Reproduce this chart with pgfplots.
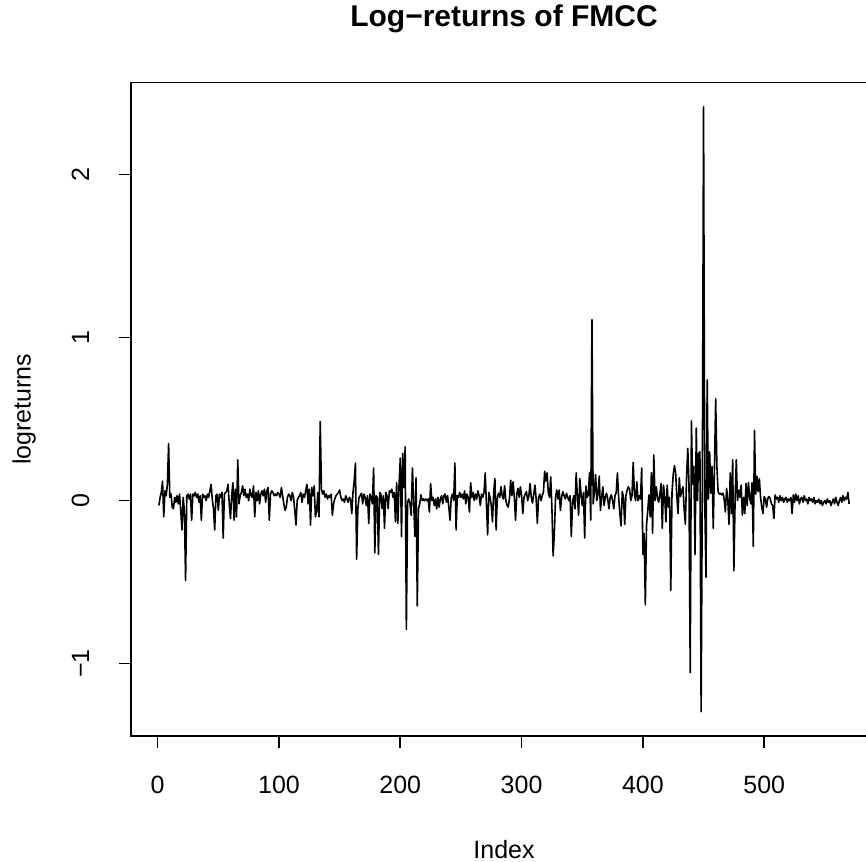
\documentclass[border=0pt]{standalone}
\usepackage{fontspec}
\setmainfont{Liberation Sans}
\usepackage{pgfplots}
\usepackage{pgfplotstable}
\pgfplotsset{compat=1.18}

% log-returns, one value per index 1..570
\pgfplotstableread[row sep=\\, header=false]{
-0.03\\ 0.02\\ 0.05\\ 0.12\\ -0.10\\ 0.06\\ 0.03\\ 0.10\\ 0.35\\ 0.02\\
0.04\\ -0.04\\ -0.05\\ 0.02\\ -0.01\\ 0.03\\ -0.02\\ 0.04\\ -0.06\\ -0.18\\
0.02\\ -0.06\\ -0.49\\ 0.03\\ 0.04\\ 0.01\\ 0.04\\ -0.12\\ 0.04\\ 0.03\\
0.05\\ 0.02\\ 0.04\\ -0.01\\ 0.03\\ -0.12\\ 0.04\\ 0.02\\ 0.03\\ 0.00\\
0.04\\ 0.02\\ 0.06\\ 0.10\\ 0.01\\ -0.05\\ -0.18\\ 0.03\\ 0.04\\ -0.06\\
0.04\\ 0.02\\ 0.05\\ -0.23\\ 0.04\\ 0.05\\ 0.06\\ 0.10\\ -0.02\\ -0.11\\
0.03\\ 0.11\\ -0.12\\ 0.07\\ -0.10\\ 0.25\\ -0.02\\ 0.03\\ 0.05\\ 0.09\\
0.03\\ 0.07\\ 0.02\\ 0.04\\ 0.00\\ 0.07\\ 0.03\\ 0.02\\ 0.09\\ -0.10\\
0.05\\ 0.00\\ 0.06\\ -0.02\\ 0.04\\ 0.06\\ 0.03\\ 0.07\\ -0.01\\ 0.06\\
0.08\\ -0.12\\ 0.04\\ 0.06\\ 0.05\\ 0.03\\ 0.04\\ 0.03\\ 0.05\\ 0.04\\
0.02\\ 0.08\\ 0.03\\ -0.02\\ -0.06\\ -0.04\\ 0.02\\ 0.04\\ 0.03\\ 0.00\\
0.05\\ 0.02\\ -0.06\\ -0.15\\ 0.00\\ 0.02\\ 0.03\\ 0.05\\ -0.01\\ 0.04\\
0.02\\ 0.06\\ 0.10\\ -0.02\\ 0.07\\ -0.15\\ 0.08\\ 0.03\\ 0.09\\ -0.10\\
-0.07\\ 0.05\\ -0.10\\ 0.485\\ 0.07\\ 0.04\\ 0.06\\ 0.02\\ 0.04\\ 0.01\\
0.03\\ 0.02\\ 0.04\\ -0.09\\ -0.02\\ 0.01\\ 0.03\\ 0.04\\ 0.05\\ 0.065\\
0.02\\ 0.00\\ 0.01\\ -0.01\\ 0.03\\ 0.01\\ -0.01\\ 0.02\\ 0.01\\ -0.08\\
0.05\\ 0.12\\ 0.23\\ -0.36\\ -0.05\\ 0.02\\ 0.03\\ 0.045\\ -0.02\\ 0.04\\
0.02\\ -0.03\\ 0.03\\ -0.14\\ 0.04\\ 0.02\\ -0.02\\ 0.20\\ -0.32\\ 0.03\\
0.02\\ -0.33\\ 0.05\\ 0.04\\ -0.05\\ 0.03\\ -0.17\\ 0.05\\ 0.03\\ -0.05\\
0.06\\ 0.05\\ 0.07\\ 0.02\\ 0.05\\ -0.13\\ 0.11\\ -0.14\\ 0.10\\ 0.26\\
-0.22\\ 0.29\\ 0.08\\ 0.33\\ -0.79\\ -0.01\\ 0.01\\ -0.02\\ -0.09\\ 0.20\\
0.00\\ -0.22\\ 0.14\\ -0.645\\ -0.05\\ -0.02\\ 0.035\\ 0.00\\ 0.01\\ 0.00\\
0.01\\ 0.00\\ 0.01\\ -0.07\\ 0.105\\ 0.00\\ 0.02\\ -0.03\\ 0.01\\ -0.05\\
0.02\\ -0.04\\ 0.01\\ 0.03\\ -0.02\\ 0.03\\ 0.04\\ -0.01\\ 0.03\\ -0.04\\
-0.12\\ 0.02\\ 0.04\\ 0.00\\ 0.23\\ -0.18\\ 0.03\\ 0.02\\ 0.05\\ 0.02\\
0.04\\ 0.01\\ 0.06\\ -0.02\\ 0.04\\ 0.02\\ -0.07\\ 0.11\\ 0.02\\ 0.05\\
0.00\\ 0.04\\ 0.01\\ 0.06\\ 0.03\\ -0.03\\ 0.04\\ 0.02\\ 0.05\\ 0.17\\
-0.02\\ -0.21\\ 0.05\\ 0.02\\ -0.03\\ -0.13\\ 0.05\\ 0.135\\ -0.18\\ 0.02\\
0.045\\ 0.02\\ 0.085\\ 0.03\\ 0.01\\ 0.09\\ 0.00\\ -0.03\\ -0.04\\ 0.01\\
0.125\\ 0.03\\ 0.115\\ 0.02\\ -0.12\\ 0.04\\ 0.075\\ 0.02\\ 0.085\\ 0.03\\
-0.08\\ 0.02\\ 0.04\\ 0.055\\ 0.00\\ 0.03\\ 0.105\\ 0.02\\ -0.015\\ 0.04\\
0.095\\ 0.01\\ -0.14\\ 0.02\\ 0.04\\ 0.00\\ 0.03\\ 0.05\\ 0.18\\ 0.12\\
0.17\\ 0.05\\ 0.02\\ 0.145\\ -0.05\\ -0.34\\ -0.20\\ 0.02\\ 0.065\\ 0.01\\
0.065\\ -0.06\\ 0.02\\ 0.055\\ 0.03\\ 0.01\\ 0.045\\ 0.02\\ 0.00\\ 0.03\\
-0.22\\ -0.01\\ 0.03\\ -0.05\\ 0.17\\ 0.02\\ -0.09\\ 0.135\\ 0.04\\ -0.03\\
0.05\\ -0.23\\ 0.09\\ 0.02\\ 0.035\\ 0.17\\ -0.12\\ 1.11\\ -0.02\\ 0.05\\
0.16\\ 0.00\\ 0.04\\ 0.15\\ -0.06\\ 0.02\\ 0.085\\ -0.03\\ 0.02\\ 0.045\\
0.01\\ -0.05\\ 0.02\\ 0.035\\ 0.00\\ -0.05\\ 0.03\\ 0.05\\ 0.17\\ 0.02\\
-0.08\\ -0.155\\ 0.055\\ 0.02\\ -0.145\\ 0.03\\ 0.065\\ 0.085\\ 0.07\\ 0.00\\
0.03\\ 0.235\\ 0.04\\ 0.00\\ 0.115\\ 0.00\\ 0.03\\ 0.01\\ 0.20\\ -0.33\\
-0.20\\ -0.64\\ -0.15\\ -0.06\\ 0.035\\ -0.10\\ 0.17\\ -0.20\\ 0.28\\ 0.00\\
0.085\\ 0.02\\ -0.01\\ 0.04\\ 0.105\\ -0.17\\ 0.095\\ 0.02\\ -0.13\\ 0.095\\
-0.04\\ 0.02\\ -0.55\\ 0.05\\ 0.16\\ 0.215\\ 0.17\\ 0.02\\ -0.08\\ 0.14\\
0.025\\ 0.06\\ 0.085\\ -0.05\\ -0.145\\ 0.145\\ 0.32\\ 0.10\\ -1.055\\ 0.49\\
0.10\\ 0.21\\ -0.33\\ 0.445\\ 0.00\\ 0.29\\ 0.30\\ -1.295\\ 0.10\\ 2.416\\
0.00\\ -0.47\\ 0.74\\ 0.01\\ 0.30\\ 0.045\\ 0.21\\ -0.17\\ 0.20\\ 0.625\\
0.21\\ 0.055\\ 0.04\\ 0.045\\ 0.035\\ 0.045\\ 0.01\\ -0.07\\ 0.075\\ 0.00\\
-0.145\\ 0.17\\ -0.08\\ 0.25\\ -0.43\\ 0.00\\ 0.25\\ 0.00\\ 0.065\\ 0.02\\
0.095\\ -0.09\\ 0.02\\ -0.08\\ 0.105\\ -0.03\\ 0.11\\ 0.02\\ -0.02\\ 0.11\\
-0.28\\ 0.43\\ 0.04\\ 0.15\\ 0.055\\ 0.135\\ 0.02\\ -0.04\\ -0.08\\ 0.025\\
0.01\\ -0.04\\ 0.015\\ 0.025\\ 0.01\\ -0.02\\ -0.03\\ -0.11\\ 0.035\\ 0.01\\
0.02\\ -0.01\\ 0.03\\ 0.00\\ 0.02\\ -0.01\\ 0.01\\ 0.02\\ -0.01\\ 0.01\\
0.00\\ 0.02\\ -0.08\\ 0.035\\ -0.01\\ 0.04\\ 0.00\\ 0.03\\ -0.02\\ 0.01\\
0.02\\ -0.01\\ 0.03\\ 0.00\\ 0.01\\ -0.02\\ 0.02\\ 0.00\\ 0.01\\ -0.01\\
0.02\\ -0.02\\ 0.00\\ -0.01\\ 0.01\\ -0.02\\ 0.00\\ -0.03\\ -0.01\\ 0.00\\
-0.02\\ 0.01\\ -0.01\\ 0.00\\ -0.03\\ -0.01\\ 0.01\\ -0.02\\ 0.02\\ -0.01\\
-0.03\\ 0.00\\ 0.02\\ -0.01\\ 0.03\\ 0.00\\ 0.02\\ 0.01\\ 0.05\\ -0.02\\
}\logreturns

\begin{document}
\begin{tikzpicture}[x=1pt,y=1pt]
% page is 866 x 861 px at 0.5pt per px; the box runs off the right edge as in the reference
\useasboundingbox (0,0) rectangle (433,430.5);
\clip (0,0) rectangle (433,430.5);
\begin{axis}[
    at={(65.5pt,62.5pt)}, anchor=south west,
    scale only axis, width=373pt, height=326.75pt,
    xmin=-22, xmax=593, ymin=-1.444, ymax=2.565,
    axis line style={line width=0.8pt},
    tick style={black, line width=0.8pt},
    tick align=outside, major tick length=6pt,
    xtick pos=lower, ytick pos=left,
    xtick={0,100,200,300,400,500},
    ytick={-1,0,1,2}, yticklabels={−1,0,1,2},
    /pgf/number format/assume math mode=true,
    ticklabel style={font=\fontsize{12.5}{15}\selectfont},
    xticklabel style={anchor=base, yshift=-22.5pt},
    yticklabel style={xshift=-15pt, rotate=90, anchor=base},
    xlabel={Index}, ylabel={logreturns},
    label style={font=\fontsize{12.5}{15}\selectfont},
    xlabel style={at={(axis description cs:0.5,-0.1867)}, anchor=base},
    ylabel style={at={(axis description cs:-0.1347,0.5)}, anchor=base},
    title={Log−returns of FMCC},
    every axis title/.style={font=\fontsize{15}{18}\selectfont\bfseries,
                 at={(axis description cs:0.5,1.08493)}, anchor=base},
  ]
  \addplot[black, line width=0.8pt, line join=round]
    table[x expr=\coordindex+1, y index=0] {\logreturns};
\end{axis}
\end{tikzpicture}
\end{document}
